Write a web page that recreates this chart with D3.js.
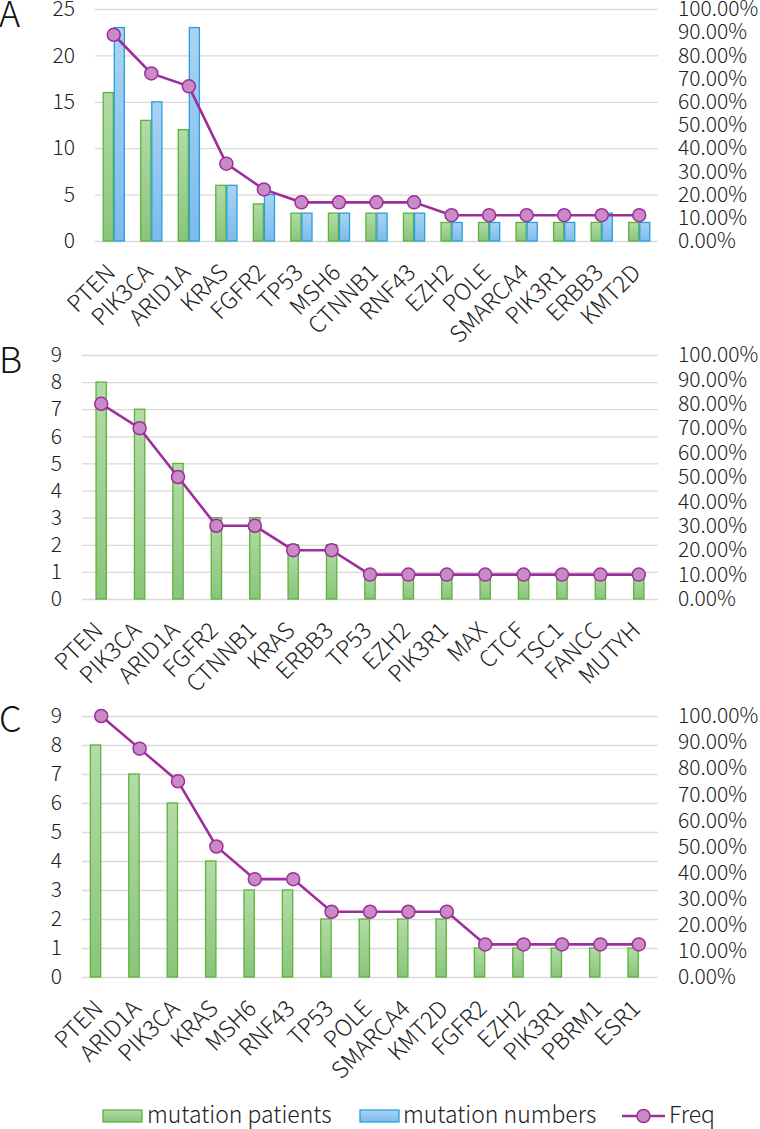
<!DOCTYPE html>
<html>
<head>
<meta charset="utf-8">
<script src="https://cdn.jsdelivr.net/npm/d3@7"></script>
<style>
  body { margin: 0; background: #fff; }
  svg { display: block; }
</style>
</head>
<body>
<div id="chart"></div>
<script>
(function () {
  'use strict';

  // Panel A
  const genesA    = ['PTEN', 'PIK3CA', 'ARID1A', 'KRAS', 'FGFR2', 'TP53', 'MSH6', 'CTNNB1', 'RNF43', 'EZH2', 'POLE', 'SMARCA4', 'PIK3R1', 'ERBB3', 'KMT2D'];
  const patientsA = [16, 13, 12, 6, 4, 3, 3, 3, 3, 2, 2, 2, 2, 2, 2];
  const numbersA  = [23, 15, 23, 6, 5, 3, 3, 3, 3, 2, 2, 2, 2, 3, 2];
  const freqA     = [88.89, 72.22, 66.67, 33.33, 22.22, 16.67, 16.67, 16.67, 16.67, 11.11, 11.11, 11.11, 11.11, 11.11, 11.11];

  // Panel B
  const genesB    = ['PTEN', 'PIK3CA', 'ARID1A', 'FGFR2', 'CTNNB1', 'KRAS', 'ERBB3', 'TP53', 'EZH2', 'PIK3R1', 'MAX', 'CTCF', 'TSC1', 'FANCC', 'MUTYH'];
  const patientsB = [8, 7, 5, 3, 3, 2, 2, 1, 1, 1, 1, 1, 1, 1, 1];
  const freqB     = [80, 70, 50, 30, 30, 20, 20, 10, 10, 10, 10, 10, 10, 10, 10];

  // Panel C
  const genesC    = ['PTEN', 'ARID1A', 'PIK3CA', 'KRAS', 'MSH6', 'RNF43', 'TP53', 'POLE', 'SMARCA4', 'KMT2D', 'FGFR2', 'EZH2', 'PIK3R1', 'PBRM1', 'ESR1'];
  const patientsC = [8, 7, 6, 4, 3, 3, 2, 2, 2, 2, 1, 1, 1, 1, 1];
  const freqC     = [100, 87.5, 75, 50, 37.5, 37.5, 25, 25, 25, 25, 12.5, 12.5, 12.5, 12.5, 12.5];

  const countTicksA  = [0, 5, 10, 15, 20, 25];
  const countTicksBC = [0, 1, 2, 3, 4, 5, 6, 7, 8, 9];
  const pctTicks     = [0, 10, 20, 30, 40, 50, 60, 70, 80, 90, 100];

  const legendNames = ['mutation patients', 'mutation numbers', 'Freq'];

  const FONT = '"Noto Sans CJK SC", "Liberation Sans", sans-serif';
  const TEXT = '#222';
  const GRID = '#d9d9d9';
  const GREEN_STROKE = '#5cb33c';
  const BLUE_STROKE  = '#27a0dc';
  const LINE_COLOR   = '#9e2e9c';
  const MARKER_FILL  = '#c98bc6';

  const W = 760, H = 1129;

  const svg = d3.select('#chart').append('svg')
    .attr('width', W).attr('height', H)
    .attr('font-family', FONT).attr('font-weight', 300);

  const defs = svg.append('defs');
  function gradient(id, top, bottom) {
    const g = defs.append('linearGradient').attr('id', id)
      .attr('x1', 0).attr('y1', 0).attr('x2', 0).attr('y2', 1);
    g.append('stop').attr('offset', '0%').attr('stop-color', top);
    g.append('stop').attr('offset', '100%').attr('stop-color', bottom);
  }
  gradient('gGreen', '#b3dba6', '#8ac57b');
  gradient('gBlue', '#aad3f3', '#7cbbec');

  const panels = [
    { letter: 'A', letterY: 27, genes: genesA, patients: patientsA, numbers: numbersA, freq: freqA,
      left: 95, right: 658, top: 9, bottom: 241, yMax: 25, ticks: countTicksA, keys: ['patients', 'numbers'] },
    { letter: 'B', letterY: 373, genes: genesB, patients: patientsB, numbers: null, freq: freqB,
      left: 82, right: 658, top: 355, bottom: 599, yMax: 9, ticks: countTicksBC, keys: ['patients'] },
    { letter: 'C', letterY: 732, genes: genesC, patients: patientsC, numbers: null, freq: freqC,
      left: 82, right: 658, top: 716, bottom: 977, yMax: 9, ticks: countTicksBC, keys: ['patients', 'numbers'] },
  ];

  panels.forEach(drawPanel);
  drawLegend();

  function styleText(sel, size) {
    sel.attr('font-size', size).attr('fill', TEXT)
      .attr('font-family', FONT).attr('font-weight', 300);
  }

  function drawPanel(p) {
    const g = svg.append('g');

    const x = d3.scaleBand().domain(p.genes).range([p.left, p.right])
      .paddingInner(0.41).paddingOuter(0.205);
    const bw = x.bandwidth();
    // single-series panels get one centred bar of half the group width
    const x1 = d3.scaleBand().domain(p.keys)
      .range(p.keys.length === 1 ? [bw / 4, bw * 3 / 4] : [0, bw]);
    const y = d3.scaleLinear().domain([0, p.yMax]).range([p.bottom, p.top]);
    const y2 = d3.scaleLinear().domain([0, 100]).range([p.bottom, p.top]);

    // panel letter
    g.append('text').attr('x', -1).attr('y', p.letterY)
      .attr('font-size', 36).attr('fill', '#111').text(p.letter);

    // left axis + gridlines
    const yAxis = g.append('g').attr('transform', `translate(${p.left},0)`)
      .call(d3.axisLeft(y).tickValues(p.ticks).tickSize(-(p.right - p.left)).tickPadding(20));
    yAxis.select('.domain').remove();
    yAxis.selectAll('line').attr('stroke', GRID).attr('stroke-width', 1.3);
    styleText(yAxis.selectAll('text'), 21);

    // right axis
    const y2Axis = g.append('g').attr('transform', `translate(${p.right},0)`)
      .call(d3.axisRight(y2).tickValues(pctTicks).tickSize(0).tickPadding(20)
        .tickFormat(d => d.toFixed(2) + '%'));
    y2Axis.select('.domain').remove();
    styleText(y2Axis.selectAll('text'), 21);

    // bottom category labels, rotated 45 degrees
    const xAxis = g.append('g').attr('transform', `translate(0,${p.bottom})`)
      .call(d3.axisBottom(x).tickSize(0));
    xAxis.select('.domain').remove();
    styleText(xAxis.selectAll('text'), 23);
    xAxis.selectAll('text')
      .attr('text-anchor', 'end').attr('dy', null).attr('y', null)
      .attr('transform', 'translate(3,33) rotate(-45)');

    // bars
    const rows = p.genes.map((gene, i) => ({
      gene,
      vals: p.keys.map(k => ({ key: k, value: k === 'patients' ? p.patients[i] : (p.numbers ? p.numbers[i] : null) }))
        .filter(d => d.value != null),
    }));
    g.append('g').selectAll('g').data(rows).join('g')
      .attr('transform', d => `translate(${x(d.gene)},0)`)
      .selectAll('rect').data(d => d.vals).join('rect')
      .attr('x', d => x1(d.key) + 0.5)
      .attr('width', x1.bandwidth() - 1)
      .attr('y', d => y(d.value))
      .attr('height', d => y(0) - y(d.value))
      .attr('fill', d => d.key === 'patients' ? 'url(#gGreen)' : 'url(#gBlue)')
      .attr('stroke', d => d.key === 'patients' ? GREEN_STROKE : BLUE_STROKE)
      .attr('stroke-width', 1.3);

    // freq line
    const cx = (gene) => x(gene) + bw / 2;
    const pts = p.genes.map((gene, i) => [cx(gene), y2(p.freq[i])]);
    g.append('path').datum(pts)
      .attr('d', d3.line())
      .attr('fill', 'none').attr('stroke', LINE_COLOR).attr('stroke-width', 2.6);
    g.append('g').selectAll('circle').data(pts).join('circle')
      .attr('cx', d => d[0]).attr('cy', d => d[1]).attr('r', 6.5)
      .attr('fill', MARKER_FILL).attr('stroke', LINE_COLOR).attr('stroke-width', 1.5);
  }

  function drawLegend() {
    const ly = 1116;
    const g = svg.append('g').attr('font-size', 23).attr('fill', TEXT);
    // mutation patients
    g.append('rect').attr('x', 103).attr('y', ly - 6).attr('width', 39).attr('height', 12)
      .attr('fill', 'url(#gGreen)').attr('stroke', GREEN_STROKE).attr('stroke-width', 1.3);
    g.append('text').attr('x', 147).attr('y', ly + 7).text(legendNames[0]);
    // mutation numbers
    g.append('rect').attr('x', 360).attr('y', ly - 6).attr('width', 39).attr('height', 12)
      .attr('fill', 'url(#gBlue)').attr('stroke', BLUE_STROKE).attr('stroke-width', 1.3);
    g.append('text').attr('x', 403).attr('y', ly + 7).text(legendNames[1]);
    // Freq
    g.append('line').attr('x1', 622).attr('x2', 665).attr('y1', ly).attr('y2', ly)
      .attr('stroke', LINE_COLOR).attr('stroke-width', 2.6);
    g.append('circle').attr('cx', 643.5).attr('cy', ly).attr('r', 6.5)
      .attr('fill', MARKER_FILL).attr('stroke', LINE_COLOR).attr('stroke-width', 1.5);
    g.append('text').attr('x', 669).attr('y', ly + 7).text(legendNames[2]);
  }
})();
</script>
</body>
</html>
